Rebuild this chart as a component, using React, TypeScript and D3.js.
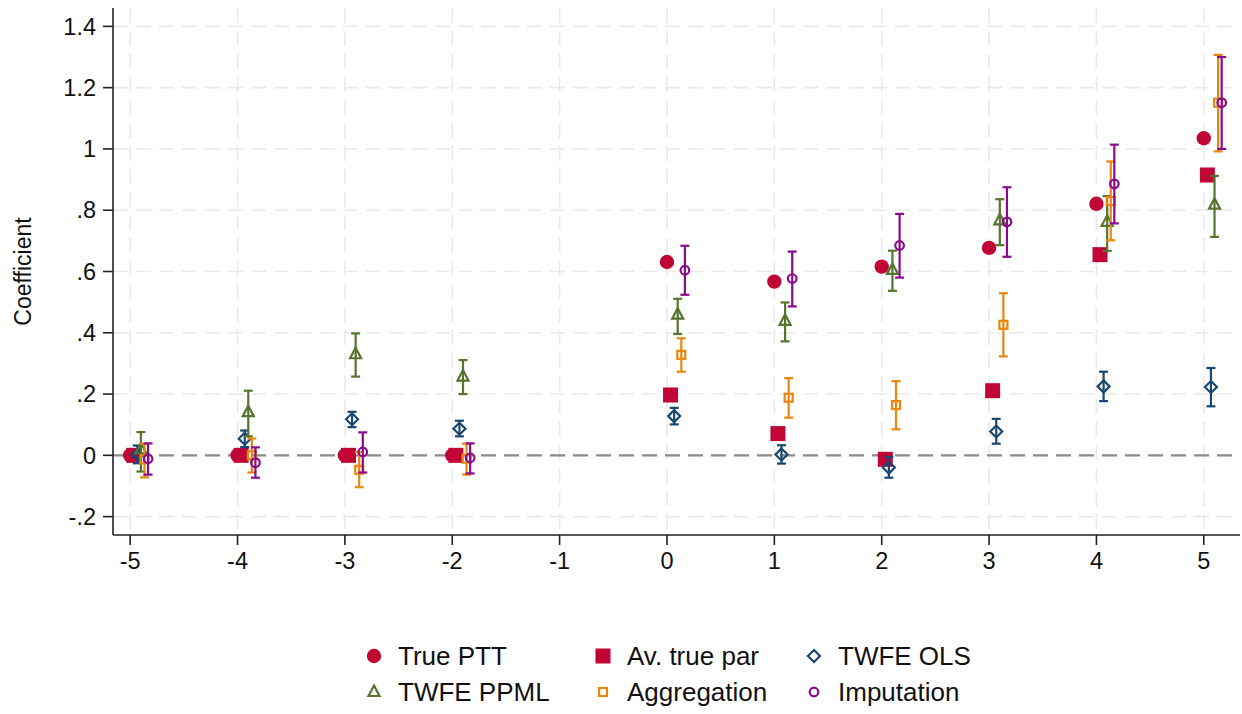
import * as d3 from "d3";
import { useEffect } from "react";

// event time
const periods = [-5, -4, -3, -2, -1, 0, 1, 2, 3, 4, 5];

// true values (no CI)
const truePTT = [0, 0, 0, 0, null, 0.631, 0.567, 0.616, 0.677, 0.821, 1.035];
const avTruePar = [0, 0, 0, 0, null, 0.197, 0.071, -0.013, 0.211, 0.655, 0.915];

// estimators, with 95% CI
const olsEst = [0.003, 0.054, 0.118, 0.087, null, 0.128, 0.003, -0.04, 0.078, 0.225, 0.223];
const olsLo = [-0.026, 0.027, 0.092, 0.062, null, 0.101, -0.027, -0.073, 0.038, 0.177, 0.16];
const olsHi = [0.032, 0.081, 0.142, 0.113, null, 0.155, 0.033, -0.005, 0.119, 0.273, 0.285];

const ppmlEst = [0.019, 0.141, 0.33, 0.257, null, 0.459, 0.439, 0.605, 0.767, 0.762, 0.818];
const ppmlLo = [-0.053, 0.062, 0.257, 0.2, null, 0.396, 0.372, 0.537, 0.686, 0.667, 0.713];
const ppmlHi = [0.076, 0.211, 0.398, 0.311, null, 0.511, 0.499, 0.668, 0.836, 0.846, 0.912];

const aggEst = [-0.013, 0.0, -0.047, -0.011, null, 0.328, 0.188, 0.164, 0.426, 0.83, 1.151];
const aggLo = [-0.072, -0.056, -0.104, -0.063, null, 0.273, 0.123, 0.085, 0.323, 0.702, 0.992];
const aggHi = [0.038, 0.055, 0.011, 0.038, null, 0.382, 0.252, 0.242, 0.529, 0.959, 1.307];

const impEst = [-0.011, -0.024, 0.011, -0.008, null, 0.604, 0.577, 0.685, 0.762, 0.886, 1.151];
const impLo = [-0.063, -0.073, -0.056, -0.059, null, 0.524, 0.486, 0.58, 0.648, 0.757, 1.0];
const impHi = [0.039, 0.026, 0.075, 0.039, null, 0.684, 0.665, 0.788, 0.875, 1.014, 1.3];

const yTicks = [-0.2, 0, 0.2, 0.4, 0.6, 0.8, 1, 1.2, 1.4];

type Shape = "dot" | "sq" | "diamond" | "tri" | "osq" | "ocirc";

const series: {
  name: string; color: string; shape: Shape;
  est: (number | null)[]; lo?: (number | null)[]; hi?: (number | null)[];
}[] = [
  { name: "True PTT", color: "#c10534", shape: "dot", est: truePTT },
  { name: "Av. true par", color: "#c10534", shape: "sq", est: avTruePar },
  { name: "TWFE OLS", color: "#1a476f", shape: "diamond", est: olsEst, lo: olsLo, hi: olsHi },
  { name: "TWFE PPML", color: "#55752f", shape: "tri", est: ppmlEst, lo: ppmlLo, hi: ppmlHi },
  { name: "Aggregation", color: "#e8870e", shape: "osq", est: aggEst, lo: aggLo, hi: aggHi },
  { name: "Imputation", color: "#8b0a8b", shape: "ocirc", est: impEst, lo: impLo, hi: impHi },
];

const W = 1242, H = 714;
const x = d3.scaleLinear().domain([-5.16, 5.3]).range([113, 1236]);
const y = d3.scaleLinear().domain([-0.26, 1.46]).range([535, 8]);

// stata style labels: .2, -.2, 1
const fmt = (v: number) => {
  if (Math.abs(v) < 1e-9) return "0";
  return String(+v.toFixed(1)).replace(/^(-?)0\./, "$1.");
};

const Marker = ({ shape, color, cx, cy }: { shape: Shape; color: string; cx: number; cy: number }) => {
  const sw = 2.2;
  switch (shape) {
    case "dot":
      return <circle cx={cx} cy={cy} r={7.2} fill={color} />;
    case "sq":
      return <rect x={cx - 7.5} y={cy - 7.5} width={15} height={15} fill={color} />;
    case "diamond":
      return <path d={`M${cx},${cy - 6}L${cx + 6},${cy}L${cx},${cy + 6}L${cx - 6},${cy}Z`} fill="none" stroke={color} strokeWidth={sw} />;
    case "tri":
      return <path d={`M${cx},${cy - 6.5}L${cx + 5.5},${cy + 4}L${cx - 5.5},${cy + 4}Z`} fill="none" stroke={color} strokeWidth={sw} />;
    case "osq":
      return <rect x={cx - 4} y={cy - 4} width={8} height={8} fill="none" stroke={color} strokeWidth={sw} />;
    case "ocirc":
      return <circle cx={cx} cy={cy} r={4.3} fill="none" stroke={color} strokeWidth={sw} />;
  }
};

export default function App() {
  useEffect(() => {
    document.body.style.margin = "0";
  }, []);

  const font = "'Liberation Sans', Arial, Helvetica, sans-serif";
  const gridColor = "#eaeaea";

  return (
    <svg width={W} height={H} style={{ display: "block", background: "white" }} fontFamily={font}>
      {/* grid */}
      {yTicks.map((t) => (
        <line key={"gy" + t} x1={113} x2={1240} y1={y(t)} y2={y(t)} stroke={gridColor} strokeWidth={1.6} strokeDasharray="15 8" />
      ))}
      {periods.map((p) => (
        <line key={"gx" + p} x1={x(p)} x2={x(p)} y1={8} y2={535} stroke={gridColor} strokeWidth={1.6} strokeDasharray="15 8" />
      ))}
      {/* zero line */}
      <line x1={113} x2={1240} y1={y(0)} y2={y(0)} stroke="#8a8a8a" strokeWidth={2.4} strokeDasharray="15 8" />

      {/* axes */}
      <line x1={113} x2={113} y1={8} y2={535} stroke="#222" strokeWidth={1.6} />
      <line x1={113} x2={1240} y1={535} y2={535} stroke="#222" strokeWidth={1.6} />
      {yTicks.map((t) => (
        <g key={"yt" + t}>
          <line x1={103} x2={113} y1={y(t)} y2={y(t)} stroke="#222" strokeWidth={1.6} />
          <text x={96} y={y(t)} dy="0.35em" textAnchor="end" fontSize={23.5} fill="#111">{fmt(t)}</text>
        </g>
      ))}
      {periods.map((p) => (
        <g key={"xt" + p}>
          <line x1={x(p)} x2={x(p)} y1={535} y2={545} stroke="#222" strokeWidth={1.6} />
          <text x={x(p)} y={561} dy="0.35em" textAnchor="middle" fontSize={23.5} fill="#111">{p}</text>
        </g>
      ))}
      <text transform={`translate(31,${y(0.6)}) rotate(-90)`} textAnchor="middle" fontSize={23} fill="#111">Coefficient</text>

      {/* series */}
      {series.map((s, si) => (
        <g key={s.name}>
          {periods.map((p, i) => {
            const v = s.est[i];
            if (v == null) return null;
            const cx = x(p + si / 30);
            const lo = s.lo ? s.lo[i] : null;
            const hi = s.hi ? s.hi[i] : null;
            return (
              <g key={p}>
                {lo != null && hi != null && (
                  <g stroke={s.color} strokeWidth={2.2}>
                    <line x1={cx} x2={cx} y1={y(lo)} y2={y(hi)} />
                    <line x1={cx - 4.5} x2={cx + 4.5} y1={y(lo)} y2={y(lo)} />
                    <line x1={cx - 4.5} x2={cx + 4.5} y1={y(hi)} y2={y(hi)} />
                  </g>
                )}
                <Marker shape={s.shape} color={s.color} cx={cx} cy={y(v)} />
              </g>
            );
          })}
        </g>
      ))}

      {/* legend, 3 columns x 2 rows */}
      {series.map((s, k) => {
        const col = k % 3, row = Math.floor(k / 3);
        const mx = [374, 603, 814][col];
        const my = 656 + row * 36;
        return (
          <g key={"lg" + s.name}>
            <Marker shape={s.shape} color={s.color} cx={mx} cy={my} />
            <text x={mx + 24} y={my} dy="0.36em" fontSize={26} fill="#111">{s.name}</text>
          </g>
        );
      })}
    </svg>
  );
}
